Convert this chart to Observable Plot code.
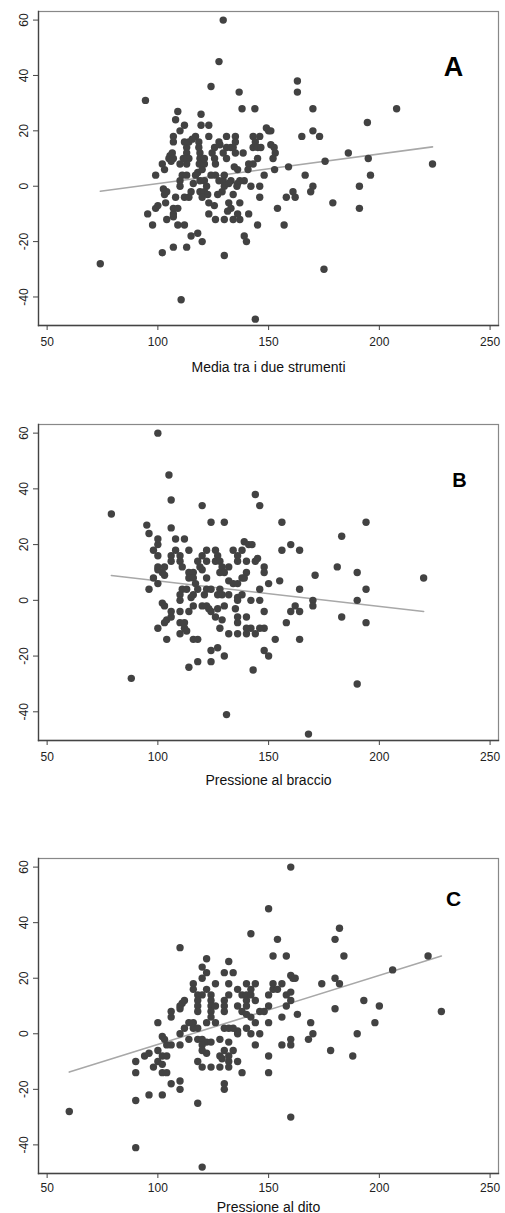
<!DOCTYPE html>
<html>
<head>
<meta charset="utf-8">
<script src="https://cdn.jsdelivr.net/npm/d3@7"></script>
<script src="https://cdn.jsdelivr.net/npm/@observablehq/plot@0.6"></script>
<style>
  html, body { margin: 0; padding: 0; background: #fff; }
  #chart svg { display: block; }
</style>
</head>
<body>
<div id="chart"></div>
<script>
// ---------- tick labels ----------
const xTicks = [50, 100, 150, 200, 250];
const yTicks = [-40, -20, 0, 20, 40, 60];

// ---------- Panel A: Media tra i due strumenti ----------
const aX = [129.5,127.6,124,94.4,136.7,138,143.8,163,163,170,207.8,194.6,170,173,165,186,195,175.5,224,196,166.5,159,191,170,169,161,162,158,179,191,154,157,175,144,110.5,74,130,102,107,113,120,118,115,140,139,145,97.6,109,112,95.4,99,100,123,126,130,134,137,141,136,104,107,107,109,107,103.5,137,132,133,131.5,103,102.5,104,108,112,115,119,121,122.5,120,123,125.5,129,134,146,146,142,135.7,136,139,133,129.5,127.6,130,126,124,121,119,116,111,113,110,110,99,102,103,105,105.5,106.5,107,106,107,107,108,109,110,112,119.5,119.5,123,123,117,113,114,113,114,113,118.5,118.5,119,119,118.7,118,121,121,124.5,125.6,125.6,126,127.6,131,131,131,129.5,133,135,135,134,135,134.5,136,138.5,143,143,144,145,146,146.5,149,150,151,151,152.5,153,152,152.7,148,145,143,141,140.7,130,137,112,115.5,111.5,110,128,132,120,117,122,127,114];
const aY = [60,45,36,31,34,28,28,38,34,28,28,23,20,18,18,12,10,9,8,4,4,7,0,0,-2,-2,-4,-4,-6,-8,-8,-14,-30,-48,-41,-28,-25,-24,-22,-22,-20,-17,-18,-20,-18,-14,-14,-14,-14,-10,-8,-7,-10,-12,-12,-12,-12,-10,-10,-12,-10,-8,-8,-11,-6,-6,-6,-8,-9,-3,-1,-2,-4,-4,-2,-2,-2,-3,-4,-6,-7,-2,-3,-4,0,0,0,1,2,2,2,2,4,4,4,2,2,1,4,4,2,0,4,8,6,10,11,12,10,9,16,18,24,27,20,22,26,22,22,18,18,14,16,12,10,8,16,14,12,10,8,5,8,10,12,14,10,8,16,18,14,10,12,14,18,16,14,12,7,6,12,18,14,16,14,18,14,21,20,20,15,14,12,10,6,4,10,8,8,6,0,2,16,17,10,8,15,1,6,4,0,-3,-4];
const aLineX = [74, 224];
const aLineY = [-1.8, 14.2];

// ---------- Panel B: Pressione al braccio ----------
const bX = [100,105,106,79,120,144,146,124,130,156,194,183,160,164,156,181,190,171,220,194,164,155,190,170,170,162,160,164,183,194,158,164,190,168,131,88,143,114,118,124,130,127,124,150,148,153,104,116,118,100,103,104,132,136,144,140,148,146,142,140,128,110,112,110,112,113,106,136,136,140,126,129,102,103,106,110,114,116,120,122,123,124,127,130,135,148,146,142,136,136,138,132,129,127,128,122,118,116,115,111,113,110,110,96,98,100,102,100,103,100,103,100,98,96,95,100,100,106,108,112,114,108,106,106,110,110,111,114,116,114,116,117,118,119,120,122,122,122,126,126,127,128,128,129,132,134,136,136,138,139,141,142.5,140,140,139,134,136,132,144,145,148,148,150,146,138,130,120,124,121];
const bY = [60,45,36,31,34,38,34,28,28,28,28,23,20,18,18,12,10,9,8,4,4,7,0,0,-2,-2,-4,-4,-6,-8,-8,-14,-30,-48,-41,-28,-25,-24,-22,-22,-20,-17,-18,-20,-18,-14,-14,-14,-14,-10,-8,-7,-12,-12,-12,-12,-10,-10,-10,-10,-10,-12,-10,-8,-8,-11,-6,-8,-6,-6,-6,-7,-1,-2,-4,-4,-4,-2,-2,-2,-3,-4,-3,-2,-3,-4,0,0,0,1,2,2,2,2,4,4,4,2,1,4,4,2,0,4,8,6,10,11,12,12,9,16,18,24,27,20,22,26,22,22,18,18,16,14,16,14,12,10,10,8,8,6,14,12,16,18,14,8,18,14,16,14,10,12,12,18,16,14,18,21,20,20,14,10,8,6,6,7,14,15,12,10,6,4,8,10,11,4,2];
const bLineX = [79, 220];
const bLineY = [8.9, -4.0];

// ---------- Panel C: Pressione al dito ----------
const cX = [160,150,142,110,154,182,180,152,158,184,222,206,180,182,174,180,193,200,228,198,169,163,190,170,168,160,160,156,178,188,150,150,160,120,90,60,118,90,96,102,110,110,106,130,130,138,90,102,104,90,94,96,98,100,102,102,104,100,120,124,128,132,136,132,128,129,132,118,130,134,106,110,102,103,104,114,118,120,122,120,122,120,124,128,132,144,146,142,136,136,140,134,130,132,126,122,116,116,118,114,112,110,100,106,106,110,111,112,110,116,116,120,122,122,120,126,130,134,132,132,118,118,118,118,120,122,124,124,124,124,124,126,130,130,130,132,136,136,138,138,140,140,140,140,140,142,142,144,144,142,146,148,150,150,152,152,154,156,158,158,160,160,160,161,162,150,156,144];
const cY = [60,45,36,31,34,38,34,28,28,28,28,23,20,18,18,9,12,10,8,4,4,7,0,0,-2,-2,-4,-4,-6,-8,-8,-14,-30,-48,-41,-28,-25,-24,-22,-22,-20,-17,-18,-20,-18,-14,-14,-14,-14,-10,-8,-7,-12,-10,-11,-8,-8,-6,-12,-12,-12,-12,-10,-10,-8,-9,-8,-10,-6,-6,-4,-4,-1,-2,-4,-2,-2,-2,-3,-4,-7,-6,-3,-2,-3,-4,0,0,0,1,2,2,2,2,4,4,4,2,2,4,2,0,4,6,8,10,11,12,9,18,16,24,27,22,20,18,22,22,26,18,14,12,10,8,14,16,14,12,10,8,6,10,12,10,8,14,16,10,14,8,18,14,12,10,7,14,16,18,12,6,8,8,14,10,18,16,16,18,14,10,12,15,21,20,20,4,6,4];
const cLineX = [60, 228];
const cLineY = [-13.8, 28];

const font = "'Liberation Sans', Arial, Helvetica, sans-serif";

function panel(o) {
  const n = o.xs.length;
  const idx = d3.range(n);
  const lineData = o.lx.map((x, i) => ({x, y: o.ly[i]}));
  return Plot.plot({
    width: 505,
    height: o.height,
    marginLeft: 38,
    marginRight: 7,
    marginTop: o.mt,
    marginBottom: o.mb,
    style: {fontFamily: font, background: "#fff", color: "#222", overflow: "visible"},
    x: {domain: [46.1, 253.8]},
    y: {domain: [-50.3, 63.1]},
    marks: [
      Plot.frame({stroke: "#888", strokeWidth: 1.2}),
      Plot.frame({anchor: "left", stroke: "#444", strokeWidth: 1.3}),
      Plot.frame({anchor: "bottom", stroke: "#444", strokeWidth: 1.3}),
      Plot.axisX({ticks: xTicks, tickSize: 5, tickPadding: o.xpad, fontSize: 12, label: null, stroke: "#444"}),
      Plot.axisY({ticks: yTicks, tickSize: 5, tickFormat: () => "", label: null, stroke: "#444"}),
      Plot.text(yTicks, {y: d => d, text: d => String(d), frameAnchor: "left", dx: -14, rotate: -90, textAnchor: "middle", lineAnchor: "middle", fontSize: 12, fill: "#222"}),
      Plot.line(lineData, {x: "x", y: "y", stroke: "#a8a8a8", strokeWidth: 1.6}),
      Plot.dot(idx, {x: i => o.xs[i], y: i => o.ys[i], r: 3.7, fill: "#424242"}),
      Plot.text([o.title], {frameAnchor: "bottom", dy: o.titleDy, lineAnchor: "middle", fontSize: 14, fill: "#111"}),
      Plot.text([o.letter], {frameAnchor: "top-right", dx: o.ldx, dy: o.ldy, fontSize: o.lsize, fontWeight: "bold", fill: "#000", textAnchor: "middle", lineAnchor: "middle"})
    ]
  });
}

const chart = document.getElementById("chart");
chart.append(panel({xs: aX, ys: aY, lx: aLineX, ly: aLineY, title: "Media tra i due strumenti", letter: "A", lsize: 27, ldx: -45, ldy: 56, height: 400, mt: 11, mb: 75, titleDy: 42, xpad: 7}));
chart.append(panel({xs: bX, ys: bY, lx: bLineX, ly: bLineY, title: "Pressione al braccio", letter: "B", lsize: 20, ldx: -39, ldy: 56, height: 400, mt: 24, mb: 60, titleDy: 40, xpad: 7}));
chart.append(panel({xs: cX, ys: cY, lx: cLineX, ly: cLineY, title: "Pressione al dito", letter: "C", lsize: 21, ldx: -45, ldy: 41, height: 413, mt: 58, mb: 40, titleDy: 34, xpad: 5}));
</script>
</body>
</html>
